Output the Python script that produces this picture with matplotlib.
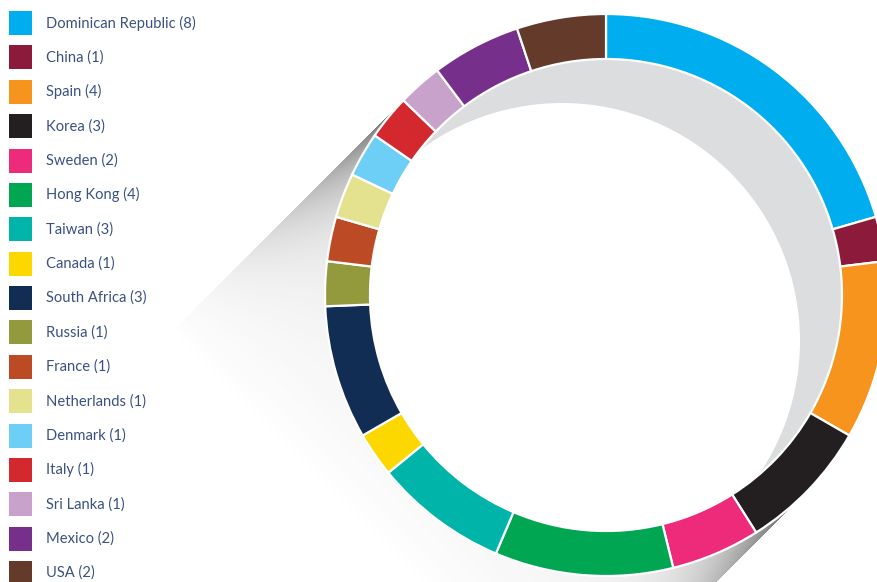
import numpy as np
import matplotlib
matplotlib.use("Agg")
import matplotlib.pyplot as plt
from matplotlib.patches import Circle, Rectangle

countries = ["Dominican Republic", "China", "Spain", "Korea", "Sweden", "Hong Kong",
             "Taiwan", "Canada", "South Africa", "Russia", "France", "Netherlands",
             "Denmark", "Italy", "Sri Lanka", "Mexico", "USA"]
counts = [8, 1, 4, 3, 2, 4, 3, 1, 3, 1, 1, 1, 1, 1, 1, 2, 2]
colors = ["#00aeef", "#8b1a3b", "#f7941d", "#231f20", "#ee2a7b", "#00a651",
          "#00b4a9", "#fcd700", "#112d54", "#939a3d", "#bc4b25", "#e5e28f",
          "#6dcff6", "#d2282e", "#c8a2cb", "#762f8a", "#643b2b"]

W, H = 877, 582
fig = plt.figure(figsize=(W / 100, H / 100), dpi=100)
ax = fig.add_axes([0, 0, 1, 1])

# ring geometry (pixel units, y measured downward from top of image)
cx, cy_img = 606, 295
R, ring_w = 281, 45
cy = H - cy_img

# ---- long diagonal shadow behind the ring ----
xs = np.arange(W) + 0.5
ys = np.arange(H) + 0.5
X, Y = np.meshgrid(xs, ys)  # Y downward image coords
v = ((X - cx) + (Y - cy_img)) / np.sqrt(2)
u = (-(X - cx) + (Y - cy_img)) / np.sqrt(2)
u_end = 335.0
s = np.clip(u / u_end, 0, 1)
e = np.exp(-(R - np.abs(v)) / 40.0)
D = 0.75 * e * (1 - s) ** 2 + 0.10 * (1 - s) ** 0.7
mask = (np.abs(v) <= R) & (u > 0) & (u < u_end)
D = np.where(mask, D, 0.0)
rgba = np.zeros((H, W, 4))
rgba[..., :3] = 0.25
rgba[..., 3] = np.clip(D, 0, 1)
ax.imshow(rgba, extent=(0, W, 0, H), origin="upper", zorder=0, interpolation="bilinear")

# inner grey crescent and offset white disc (clipped to the ring's hole)
r_in = R - ring_w
hole = Circle((cx, cy), r_in + 2, facecolor="#dcdddf", edgecolor="none", zorder=1)
ax.add_patch(hole)
white = Circle((562, H - 341), 238, facecolor="white", edgecolor="none", zorder=1.5)
ax.add_patch(white)
white.set_clip_path(hole)

# ---- donut ----
ax.pie(counts, colors=colors, startangle=90, counterclock=False, radius=R,
       center=(cx, cy),
       wedgeprops=dict(width=ring_w, edgecolor="white", linewidth=1.6, zorder=2))

# ---- legend ----
y0, dy = 23, 34.375
for i, (name, n, c) in enumerate(zip(countries, counts, colors)):
    yc = H - (y0 + i * dy)
    ax.add_patch(Rectangle((9, yc - 12), 23, 24, facecolor=c, edgecolor="none", zorder=5))
    ax.text(46, yc, f"{name} ({n})", fontsize=10.6, family="Lato", color="#3b5181",
            va="center", ha="left", zorder=5)

ax.set_xlim(0, W)
ax.set_ylim(0, H)
ax.set_aspect("auto")
ax.axis("off")
fig.savefig("out.png", dpi=100, facecolor="white")
